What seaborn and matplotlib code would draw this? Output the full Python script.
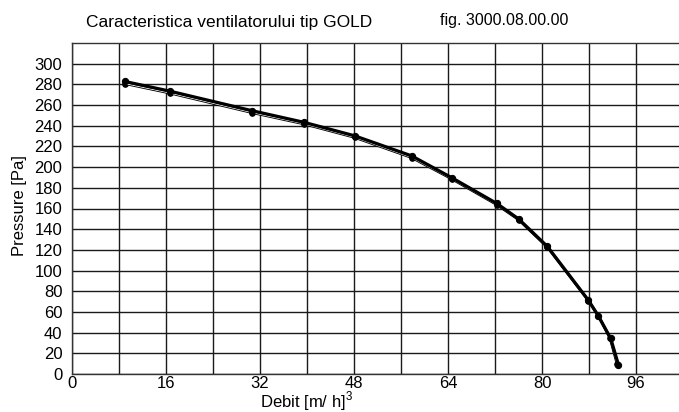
import matplotlib
matplotlib.use("Agg")
import matplotlib.pyplot as plt
import seaborn as sns
import pandas as pd
import numpy as np

# Data
debit_thick = [9.0, 16.7, 30.6, 39.5, 48.1, 57.8, 64.6, 72.3, 76.0, 80.9, 87.9, 89.6, 91.7, 93.0]
pressure_thick = [282.8, 273.4, 254.6, 243.3, 230.3, 210.9, 189.9, 164.9, 150.0, 123.4, 71.3, 56.1, 34.4, 9.1]
debit_thin = [9.0, 16.7, 30.6, 39.5, 48.1, 57.8, 64.6, 72.3, 76.0, 80.9, 87.9, 89.6, 91.6, 92.8]
pressure_thin = [280.8, 271.6, 252.8, 241.8, 228.8, 209.3, 188.8, 163.8, 149.3, 122.8, 71.0, 56.0, 34.5, 9.5]

x_tick_values = list(range(0, 104, 8))
x_tick_labels = [str(v) if v % 16 == 0 else "" for v in x_tick_values]
y_tick_values = list(range(0, 320, 20))

title_text = "Caracteristica ventilatorului tip GOLD"
fig_text = "fig. 3000.08.00.00"
x_label = "Debit [m/ h]$^3$"
y_label = "Pressure [Pa]"

sns.set_style("white")
plt.rcParams['font.family'] = ['Liberation Sans', 'DejaVu Sans']
plt.rcParams['mathtext.fontset'] = 'custom'
plt.rcParams['mathtext.rm'] = 'Liberation Sans'
for key in ['text.color', 'axes.labelcolor', 'xtick.color', 'ytick.color']:
    plt.rcParams[key] = 'black'

fig = plt.figure(figsize=(6.79, 4.12), dpi=100)
ax = fig.add_axes([72/679, 38/412, (679-72)/679, (374-43)/412])

df_thin = pd.DataFrame({"Debit": debit_thin, "Pressure": pressure_thin})
df_thick = pd.DataFrame({"Debit": debit_thick, "Pressure": pressure_thick})

sns.lineplot(data=df_thin, x="Debit", y="Pressure", ax=ax, color="black", lw=2.0,
             marker="o", markersize=4, markeredgecolor="black", sort=False, zorder=3)
sns.lineplot(data=df_thin, x="Debit", y="Pressure", ax=ax, color="white", lw=0.7,
             sort=False, zorder=4)
sns.lineplot(data=df_thick, x="Debit", y="Pressure", ax=ax, color="black", lw=2.3,
             marker="o", markersize=4.5, markeredgecolor="black", sort=False, zorder=5)

ax.set_xlim(0, 16*(679-72)/94)
ax.set_ylim(0, 320)
ax.set_xticks(x_tick_values)
ax.set_xticklabels(x_tick_labels, fontsize=12)
ax.set_yticks(y_tick_values)
ax.set_yticklabels([str(v) for v in y_tick_values], fontsize=12)
ax.tick_params(axis="y", length=0, pad=7)
ax.tick_params(axis="x", length=0, pad=1.5)
ax.grid(True, color="#1a1a1a", lw=1.0)
ax.set_axisbelow(True)
for s in ["top", "left", "bottom"]:
    ax.spines[s].set_color("#333333")
    ax.spines[s].set_linewidth(1.0)
ax.spines["right"].set_visible(False)

ax.set_xlabel(x_label, fontsize=12)
ax.xaxis.set_label_coords((307-72)/607, -0.046)
ax.set_ylabel(y_label, fontsize=12)
ax.yaxis.set_label_coords(-0.074, 0.51)

fig.text(86/679, 1-22/412, title_text, fontsize=12.5, ha="left", va="center")
fig.text(440/679, 1-20/412, fig_text, fontsize=11.5, ha="left", va="center")

fig.savefig("out.png", dpi=100)
